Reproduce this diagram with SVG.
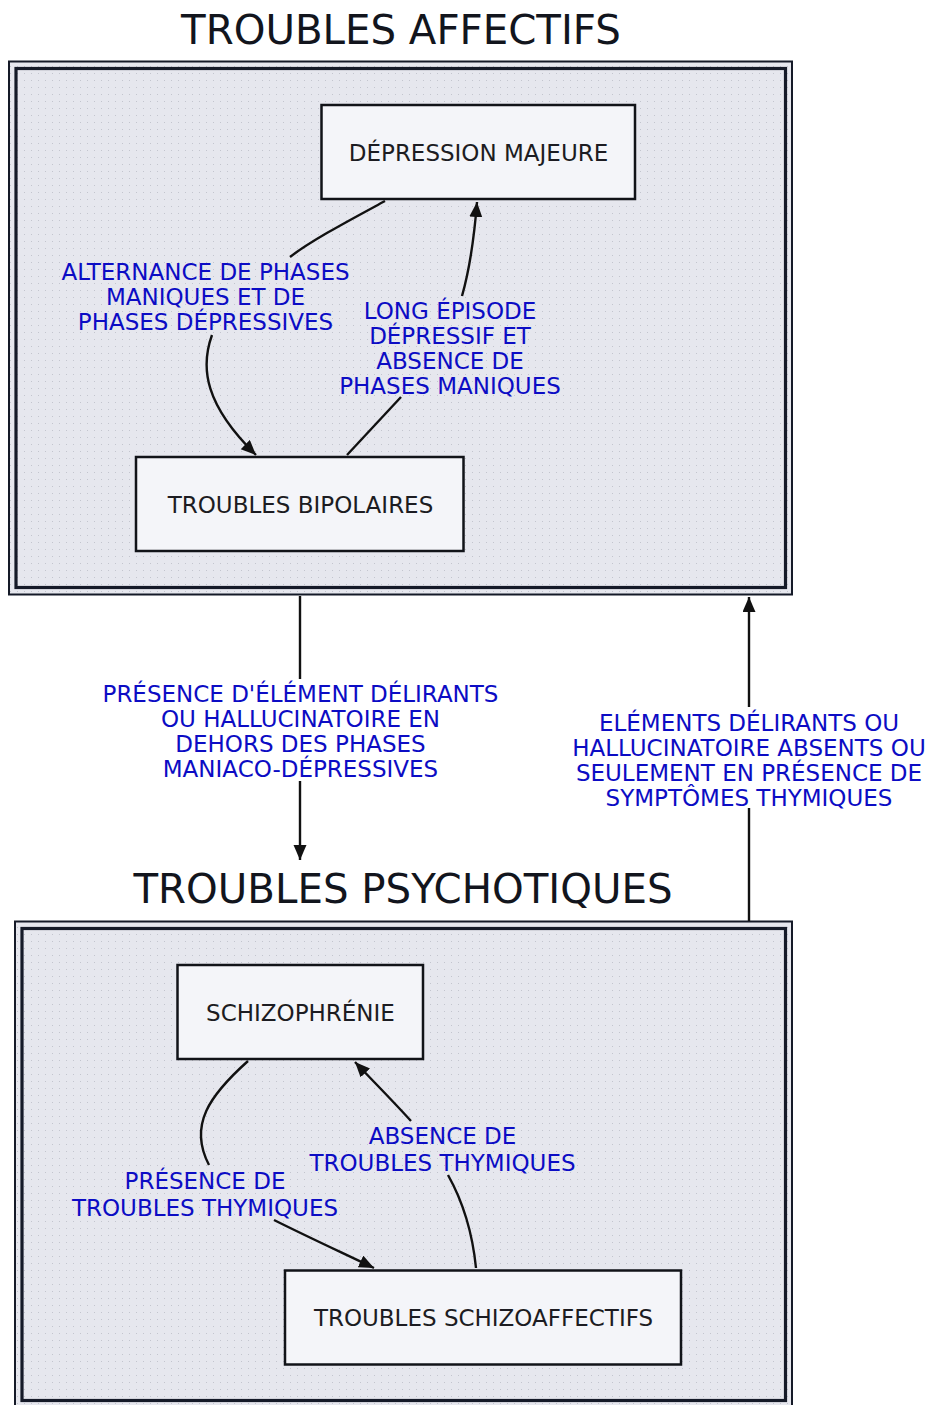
<svg xmlns="http://www.w3.org/2000/svg" width="931" height="1405" viewBox="0 0 931 1405">
<style>
.title{font-family:"DejaVu Sans",sans-serif;font-size:40.3px;fill:#12151d;text-anchor:middle}
.ntext{font-family:"DejaVu Sans",sans-serif;font-size:23px;fill:#1c1c22;text-anchor:middle}
.lbl{font-family:"DejaVu Sans",sans-serif;font-size:23px;fill:#0c0cc4;text-anchor:middle}
.node{fill:#f4f5f9;stroke:#111318;stroke-width:2.5}
.fo{fill:url(#dots);stroke:#151a28;stroke-width:2}
.fi{fill:none;stroke:#151a28;stroke-width:3.2}
.edge{fill:none;stroke:#111;stroke-width:2.4}
</style>
<defs>
<pattern id="dots" width="7" height="7" patternUnits="userSpaceOnUse">
<rect width="7" height="7" fill="#e6e7ee"/>
<rect x="3" y="3" width="1" height="1" fill="#c3c5ce"/>
</pattern>
<marker id="ah" markerUnits="userSpaceOnUse" markerWidth="16" markerHeight="14" refX="15" refY="6.5" orient="auto">
<path d="M0,0 L15,6.5 L0,13 z" fill="#111"/>
</marker>
</defs>
<rect width="931" height="1405" fill="#ffffff"/>

<g id="frame-affectifs">
<text class="title" x="401" y="44">TROUBLES AFFECTIFS</text>
<rect class="fo" x="9" y="61.5" width="783" height="533"/>
<rect class="fi" x="16" y="68.5" width="769.5" height="519"/>
</g>

<g id="frame-psychotiques">
<text class="title" x="403" y="903">TROUBLES PSYCHOTIQUES</text>
<rect class="fo" x="15" y="921.5" width="777" height="500"/>
<rect class="fi" x="22" y="928.5" width="763.5" height="472"/>
</g>

<g id="node-depression">
<rect class="node" x="321.5" y="105" width="313.5" height="94"/>
<text class="ntext" x="478.5" y="160.5">DÉPRESSION MAJEURE</text>
</g>
<g id="node-bipolaires">
<rect class="node" x="136" y="457" width="327.5" height="94"/>
<text class="ntext" x="300.5" y="512.5">TROUBLES BIPOLAIRES</text>
</g>
<g id="node-schizophrenie">
<rect class="node" x="177.5" y="965" width="245.5" height="94"/>
<text class="ntext" x="300.5" y="1020.5">SCHIZOPHRÉNIE</text>
</g>
<g id="node-schizoaffectifs">
<rect class="node" x="285" y="1270.5" width="396" height="94"/>
<text class="ntext" x="483.5" y="1326">TROUBLES SCHIZOAFFECTIFS</text>
</g>

<g id="connectors">
<path class="edge" d="M385,201 C350,220 312,240 290,257"/>
<path class="edge" d="M212,335 C200,368 205,405 256,455" marker-end="url(#ah)"/>
<path class="edge" d="M347,455 L401,397"/>
<path class="edge" d="M462,296 C470,268 474,240 477,202" marker-end="url(#ah)"/>
<path class="edge" d="M300,596 L300,679"/>
<path class="edge" d="M300,781 L300,860" marker-end="url(#ah)"/>
<path class="edge" d="M749,921 L749,808"/>
<path class="edge" d="M749,707 L749,597" marker-end="url(#ah)"/>
<path class="edge" d="M248,1061 C210,1095 188,1125 209,1165"/>
<path class="edge" d="M274,1220 C310,1238 345,1254 374,1268" marker-end="url(#ah)"/>
<path class="edge" d="M476,1268 C472,1228 462,1200 448,1175"/>
<path class="edge" d="M411,1121 C392,1100 372,1080 355,1062" marker-end="url(#ah)"/>
</g>

<g id="labels">
<text class="lbl" x="205.5" y="280"><tspan x="205.5">ALTERNANCE DE PHASES</tspan><tspan x="205.5" dy="25">MANIQUES ET DE</tspan><tspan x="205.5" dy="25">PHASES DÉPRESSIVES</tspan></text>
<text class="lbl" x="450" y="319"><tspan x="450">LONG ÉPISODE</tspan><tspan x="450" dy="25">DÉPRESSIF ET</tspan><tspan x="450" dy="25">ABSENCE DE</tspan><tspan x="450" dy="25">PHASES MANIQUES</tspan></text>
<text class="lbl" x="300.5" y="702"><tspan x="300.5">PRÉSENCE D'ÉLÉMENT DÉLIRANTS</tspan><tspan x="300.5" dy="25">OU HALLUCINATOIRE EN</tspan><tspan x="300.5" dy="25">DEHORS DES PHASES</tspan><tspan x="300.5" dy="25">MANIACO-DÉPRESSIVES</tspan></text>
<text class="lbl" x="749" y="731"><tspan x="749">ELÉMENTS DÉLIRANTS OU</tspan><tspan x="749" dy="25">HALLUCINATOIRE ABSENTS OU</tspan><tspan x="749" dy="25">SEULEMENT EN PRÉSENCE DE</tspan><tspan x="749" dy="25">SYMPTÔMES THYMIQUES</tspan></text>
<text class="lbl" x="205" y="1189"><tspan x="205">PRÉSENCE DE</tspan><tspan x="205" dy="27">TROUBLES THYMIQUES</tspan></text>
<text class="lbl" x="442.5" y="1144"><tspan x="442.5">ABSENCE DE</tspan><tspan x="442.5" dy="27">TROUBLES THYMIQUES</tspan></text>
</g>
</svg>
